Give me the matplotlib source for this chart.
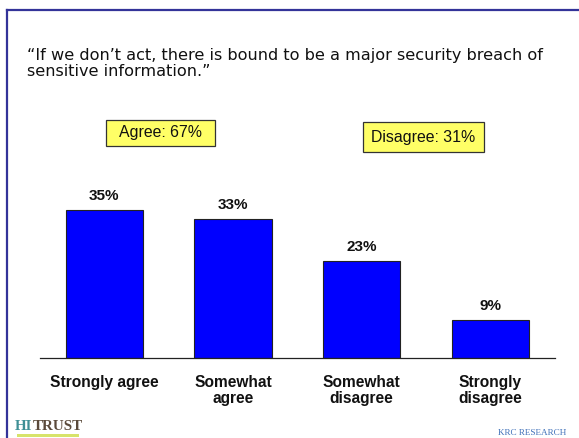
import matplotlib
matplotlib.use('Agg')
import matplotlib.pyplot as plt
from matplotlib.patches import Rectangle
from matplotlib.lines import Line2D

# survey responses
categories = ['Strongly agree', 'Somewhat\nagree', 'Somewhat\ndisagree', 'Strongly\ndisagree']
values = [35, 33, 23, 9]
value_labels = ['35%', '33%', '23%', '9%']
title = '\u201cIf we don\u2019t act, there is bound to be a major security breach of\nsensitive information.\u201d'
agree_label = 'Agree: 67%'
disagree_label = 'Disagree: 31%'

W, H = 579, 438
fig = plt.figure(figsize=(W / 100, H / 100), dpi=100)
fig.patch.set_facecolor('white')


def fx(px):
    return px / W


def fy(py):
    return 1 - py / H


# slide frame (top + left edges)
frame_col = '#333399'
fig.add_artist(Line2D([fx(7), fx(579)], [fy(10), fy(10)], color=frame_col, lw=1.6))
fig.add_artist(Line2D([fx(7), fx(7)], [fy(10), fy(438)], color=frame_col, lw=1.6))

fig.text(fx(27), fy(63.5), title, fontsize=11.6, family='DejaVu Sans',
         va='center', ha='left', linespacing=1.1, color='#111111')

# bar chart
ax_top, ax_bot = 110, 358
ax = fig.add_axes([fx(39.8), fy(ax_bot), fx(515), (ax_bot - ax_top) / H])
x = range(len(values))
ax.bar(x, values, width=0.6, color='#0000ff', edgecolor='#222222', linewidth=0.8)
ax.set_xlim(-0.5, 3.5)
ax.set_ylim(0, (ax_bot - ax_top) / 4.22)
for xi, v, lab in zip(x, values, value_labels):
    ax.annotate(lab, (xi, v), xytext=(0, 10), textcoords='offset points',
                ha='center', va='center', fontsize=11, fontweight='bold',
                family='Liberation Sans', color='#111111')
ax.set_xticks(list(x))
ax.set_xticklabels(categories, fontsize=11.2, fontweight='bold', family='Liberation Sans',
                   color='#111111', linespacing=1.1)
ax.tick_params(axis='x', length=0, pad=12)
ax.set_yticks([])
for s in ['top', 'right', 'left']:
    ax.spines[s].set_visible(False)
ax.spines['bottom'].set_color('#222222')
ax.spines['bottom'].set_linewidth(0.9)

# agree / disagree summary boxes
for (x0, y0, x1, y1), lab in [((105.7, 120, 214.7, 146), agree_label),
                              ((363, 122, 484, 152), disagree_label)]:
    fig.add_artist(Rectangle((fx(x0), fy(y1)), fx(x1 - x0), (y1 - y0) / H,
                             transform=fig.transFigure, facecolor='#ffff66',
                             edgecolor='#333333', lw=0.9))
    fig.text(fx((x0 + x1) / 2), fy((y0 + y1) / 2), lab, ha='center', va='center',
             fontsize=11.4, family='Liberation Sans', color='#111111')

# footer: logo and research credit
hi = fig.text(fx(15), fy(427), 'HI', fontsize=10.8, family='Liberation Serif', color='#3f8f95',
              fontweight='bold', va='center', ha='left')
fig.add_artist(plt.Annotation('TRUST', xy=(1, 0.5), xycoords=hi, va='center', ha='left',
                              fontsize=10.8, family='Liberation Serif', color='#5b4a3b',
                              fontweight='bold'))
fig.add_artist(Rectangle((fx(17), fy(437)), fx(62), 3 / H, transform=fig.transFigure,
                         facecolor='#d7e36a', edgecolor='none'))
fig.text(fx(566), fy(433), 'KRC RESEARCH', fontsize=6.6, family='Liberation Serif',
         color='#3d6fb8', va='center', ha='right')

fig.savefig('out.png', dpi=100)
